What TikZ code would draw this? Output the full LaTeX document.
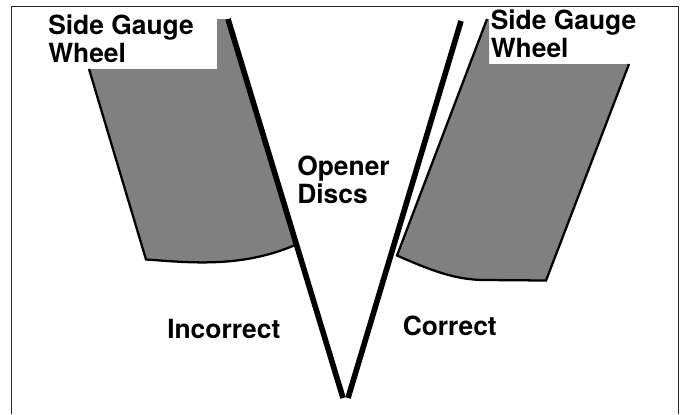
\documentclass[tikz,border=0pt]{standalone}
\usepackage{fontspec}
\setmainfont{TeX Gyre Heros}
\tikzset{
  frameline/.style={draw=black!85,line width=1.1pt},
  disc/.style={draw=black,line width=4.2pt},
  wheelfill/.style={fill=black!50,draw=none},
  wheeledge/.style={draw=black,line width=1.7pt,line join=miter},
  lab/.style={font=\fontsize{19.8}{20.9}\selectfont\bfseries,align=left,anchor=north west,inner sep=0pt,text=black},
  mask/.style={fill=white,draw=none}
}
\begin{document}
\begin{tikzpicture}[x=1pt,y=-1pt,scale=0.75]
\path[use as bounding box,fill=white] (0,0) rectangle (681,414);
\draw[frameline] (11.5,414) -- (11.5,6.5) -- (678.5,6.5) -- (678.5,414);
% left wheel
\coordinate (la) at (89,69);
\coordinate (lb) at (146,259.5);
\coordinate (lc) at (295,245);
\coordinate (ld) at (228,19);
\fill[wheelfill] (la) -- (lb) .. controls (185,262) and (240,269) .. (lc) -- (ld) -- (217,19) -- (217,69) -- cycle;
\draw[wheeledge] (la) -- (lb) .. controls (185,262) and (240,269) .. (lc);
% right wheel
\coordinate (ra) at (487,19);
\coordinate (rb) at (397,255.5);
\coordinate (rc) at (546,280.5);
\coordinate (rd) at (629,64);
\fill[wheelfill] (ra) -- (rb) .. controls (430,270) and (455,280) .. (485,280) -- (rc) -- (rd) -- (489,64) -- (489,19) -- cycle;
\draw[wheeledge] (ra) -- (rb) .. controls (430,270) and (455,280) .. (485,280) -- (rc) -- (rd);
% discs
\coordinate (d1a) at (228,19);
\coordinate (d1b) at (343,398);
\coordinate (d2a) at (461,21);
\coordinate (d2b) at (348,398);
\draw[disc] (d1a) -- (d1b);
\draw[disc] (d2a) -- (d2b);
\node[lab] (t1) at (48,14.5) {Side Gauge\\Wheel};
\node[lab] (t2) at (490.5,10) {Side Gauge\\Wheel};
\node[lab] (t3) at (297,156) {Opener\\Discs};
\node[lab] (t4) at (167,318.5) {Incorrect};
\node[lab] (t5) at (402.5,316) {Correct};
\end{tikzpicture}
\end{document}
